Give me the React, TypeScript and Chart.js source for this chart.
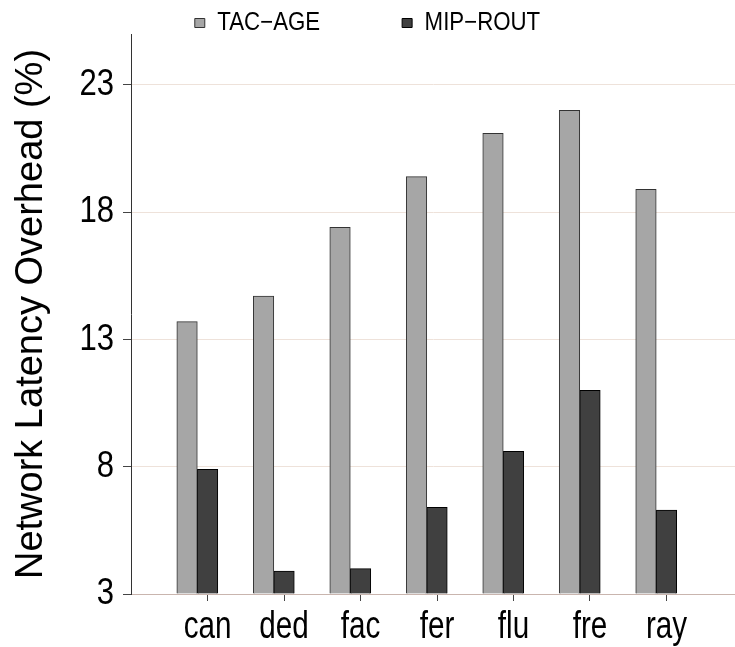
import React, { useEffect, useRef } from "react";
import { Chart, registerables } from "chart.js";

Chart.register(...registerables);

const categories = ["can", "ded", "fac", "fer", "flu", "fre", "ray"];
const tacAge = [13.7, 14.7, 17.4, 19.4, 21.1, 22.0, 18.9];
const mipRout = [7.9, 3.9, 4.0, 6.4, 8.6, 11.0, 6.3];
const yTicks = [3, 8, 13, 18, 23];
const seriesNames = ["TAC\u2212AGE", "MIP\u2212ROUT"];
const yTitle = "Network Latency Overhead (%)";

const SANS = '"Liberation Sans", Arial, Helvetica, sans-serif';

// horizontal condensing factor per font size (the reference uses a narrow Helvetica)
const condenseBySize: Record<number, number> = { 38: 0.78, 37: 0.84, 25: 0.89 };

function installCondensedText(ctx: CanvasRenderingContext2D) {
  const origFill = ctx.fillText.bind(ctx);
  const origMeasure = ctx.measureText.bind(ctx);
  const factor = () => {
    const t = ctx.getTransform();
    if (Math.abs(t.b) > 1e-6 || Math.abs(t.c) > 1e-6) return 1;
    const m = /(\d+(?:\.\d+)?)px/.exec(ctx.font);
    const size = m ? Math.round(parseFloat(m[1])) : 0;
    return condenseBySize[size] || 1;
  };
  (ctx as any).fillText = (text: string, x: number, y: number, maxWidth?: number) => {
    const f = factor();
    if (f === 1) {
      return maxWidth === undefined ? origFill(text, x, y) : origFill(text, x, y, maxWidth);
    }
    ctx.save();
    ctx.translate(x, y);
    ctx.scale(f, 1);
    if (maxWidth === undefined) origFill(text, 0, 0);
    else origFill(text, 0, 0, maxWidth / f);
    ctx.restore();
  };
  (ctx as any).measureText = (text: string) => {
    const m = origMeasure(text);
    const f = factor();
    if (f === 1) return m;
    return {
      width: m.width * f,
      actualBoundingBoxLeft: m.actualBoundingBoxLeft * f,
      actualBoundingBoxRight: m.actualBoundingBoxRight * f,
      actualBoundingBoxAscent: m.actualBoundingBoxAscent,
      actualBoundingBoxDescent: m.actualBoundingBoxDescent,
      fontBoundingBoxAscent: (m as any).fontBoundingBoxAscent,
      fontBoundingBoxDescent: (m as any).fontBoundingBoxDescent,
    } as any;
  };
}

const condensePlugin = {
  id: "condensedText",
  beforeInit(chart: any) {
    installCondensedText(chart.ctx);
  },
};

export default function App() {
  const ref = useRef<HTMLCanvasElement | null>(null);

  useEffect(() => {
    if (!ref.current) return;
    const chart = new Chart(ref.current, {
      type: "bar",
      plugins: [condensePlugin],
      data: {
        datasets: [
          {
            label: seriesNames[0],
            data: tacAge.map((v, i) => ({ x: i, y: v })),
            backgroundColor: "#a6a6a6",
            borderColor: "#333333",
            borderWidth: 1,
            barThickness: 20.5,
            base: yTicks[0],
          },
          {
            label: seriesNames[1],
            data: mipRout.map((v, i) => ({ x: i, y: v })),
            backgroundColor: "#404040",
            borderColor: "#000000",
            borderWidth: 1,
            barThickness: 20.5,
            base: yTicks[0],
          },
        ],
      },
      options: {
        animation: false,
        responsive: false,
        maintainAspectRatio: false,
        layout: { padding: { top: -71.5, left: 0, right: 0, bottom: 0 } },
        plugins: {
          legend: {
            position: "top",
            maxHeight: 105.5,
            labels: {
              font: { family: SANS, size: 25 },
              color: "#000",
              boxWidth: 10,
              boxHeight: 9,
              padding: 82,
            },
          },
          tooltip: { enabled: false },
        },
        scales: {
          x: {
            type: "linear",
            min: -0.867,
            max: 7.03,
            offset: false,
            afterBuildTicks: (s: any) => {
              s.ticks = categories.map((_, i) => ({ value: i + 0.134 }));
            },
            afterFit: (s: any) => {
              s.height = 53;
            },
            ticks: {
              callback: (_v: any, i: number) => categories[i],
              font: { family: SANS, size: 38 },
              color: "#000",
              padding: 4,
              autoSkip: false,
              maxRotation: 0,
            },
            grid: {
              display: true,
              offset: false,
              drawOnChartArea: false,
              drawTicks: true,
              tickLength: 7,
              tickColor: "#444",
              color: "#444",
            },
            border: { display: true, color: "#c9b5ae", width: 1 },
          },
          y: {
            min: 3,
            max: 25,
            afterBuildTicks: (s: any) => {
              s.ticks = yTicks.map((v) => ({ value: v }));
            },
            afterFit: (s: any) => {
              s.width = 131;
            },
            ticks: {
              font: { family: SANS, size: 37 },
              color: "#000",
              padding: 9,
            },
            grid: {
              color: "#eee2da",
              tickLength: 8,
              tickColor: "#444",
              lineWidth: 1,
            },
            border: { display: true, color: "#333", width: 1 },
            title: {
              display: true,
              text: yTitle,
              color: "#000",
              font: { family: SANS, size: 38, lineHeight: 1.2 },
              padding: { top: 9, bottom: 0 },
            },
          },
        },
      },
    } as any);
    return () => chart.destroy();
  }, []);

  return (
    <div style={{ position: "absolute", left: 0, top: 0, width: 735, height: 647, background: "#fff" }}>
      <canvas ref={ref} width={735} height={647} style={{ display: "block", width: 735, height: 647 }} />
    </div>
  );
}
